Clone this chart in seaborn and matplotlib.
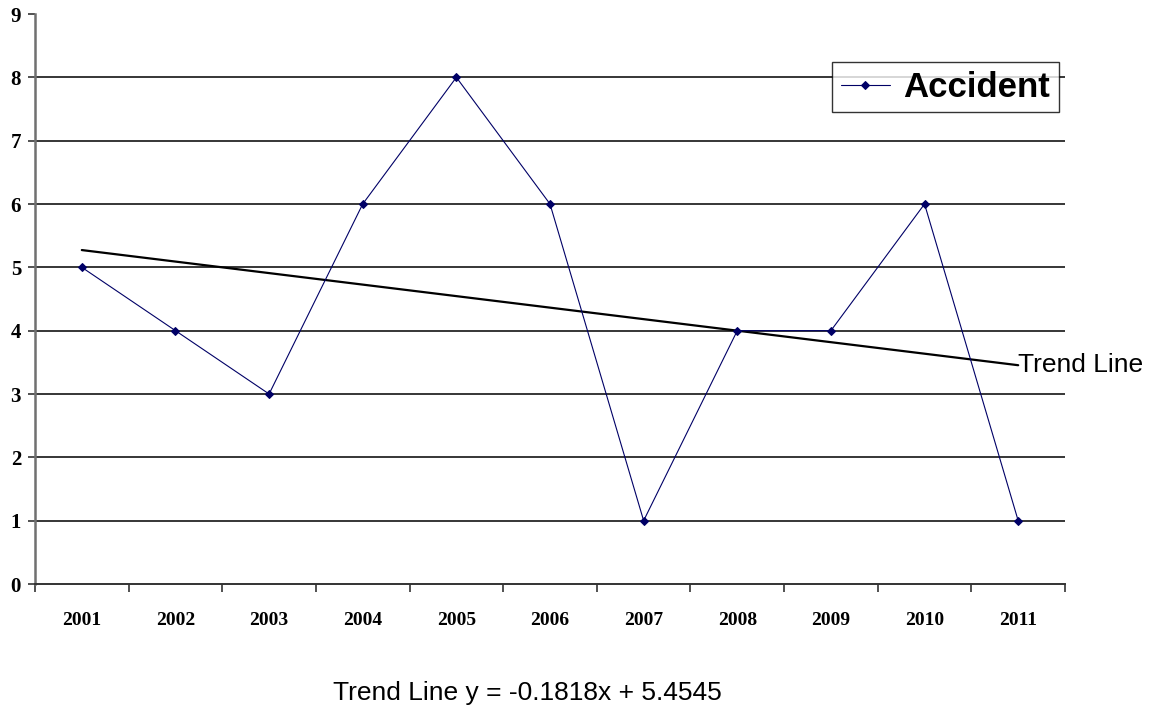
import numpy as np
import pandas as pd
import seaborn as sns
from matplotlib import pyplot as plt
from matplotlib.ticker import FixedLocator

years = ["2001", "2002", "2003", "2004", "2005", "2006",
         "2007", "2008", "2009", "2010", "2011"]
accidents = [5, 4, 3, 6, 8, 6, 1, 4, 4, 6, 1]
y_ticks = [0, 1, 2, 3, 4, 5, 6, 7, 8, 9]

sns.set_theme(style="white")
plt.rcParams["font.family"] = ["Liberation Sans", "DejaVu Sans"]
plt.rcParams["text.color"] = "black"
plt.rcParams["xtick.labelcolor"] = "black"
plt.rcParams["ytick.labelcolor"] = "black"

df = pd.DataFrame({"pos": np.arange(len(years)), "year": years, "accidents": accidents})

fig = plt.figure(figsize=(11.63, 7.09), dpi=100)
ax = fig.add_axes([35 / 1163, 125 / 709, 1030 / 1163, 570 / 709])

# horizontal gridlines like the Excel chart (none on the top value)
for v in y_ticks[1:-1]:
    ax.axhline(v, color="black", lw=1.1, zorder=0)

sns.lineplot(data=df, x="pos", y="accidents", ax=ax, color="#000066",
             lw=0.8, marker="D", markersize=4, markeredgecolor="#000066",
             label="Accident", zorder=3)

# least-squares trend over category index 1..11
slope, intercept = np.polyfit(df["pos"] + 1, df["accidents"], 1)
sns.regplot(data=df, x="pos", y="accidents", ax=ax, scatter=False, ci=None,
            color="black", line_kws={"lw": 1.6, "zorder": 2})

ax.set_xlim(-0.5, len(years) - 0.5)
ax.set_ylim(0, 9)
ax.set_xlabel("")
ax.set_ylabel("")

ax.xaxis.set_major_locator(FixedLocator(np.arange(len(years) + 1) - 0.5))
ax.xaxis.set_minor_locator(FixedLocator(df["pos"]))
ax.set_xticklabels([], minor=False)
ax.set_xticklabels(years, minor=True, family="Liberation Serif",
                   fontweight="bold", fontsize=14)
ax.tick_params(axis="x", which="major", length=6, width=1.2, color="#333333",
               direction="out", bottom=True)
ax.tick_params(axis="x", which="minor", length=0, pad=20)
ax.set_yticks(y_ticks)
ax.set_yticklabels([str(t) for t in y_ticks], family="Liberation Serif",
                   fontweight="bold", fontsize=15)
ax.tick_params(axis="y", length=5, width=1.2, color="#333333", direction="out",
               left=True, pad=5)

for side in ["top", "right"]:
    ax.spines[side].set_visible(False)
ax.spines["left"].set_color("#707070")
ax.spines["left"].set_linewidth(1.8)
ax.spines["bottom"].set_color("#333333")
ax.spines["bottom"].set_linewidth(1.4)

leg = ax.legend(loc="upper right", bbox_to_anchor=(1059 / 1163, 1 - 62 / 709),
                bbox_transform=fig.transFigure, frameon=True, fancybox=False,
                prop={"weight": "heavy", "size": 25}, handlelength=1.4,
                borderpad=0.25, handletextpad=0.4, borderaxespad=0)
leg.get_frame().set_edgecolor("black")
leg.get_frame().set_linewidth(1.0)
for t in leg.get_texts():
    t.set_color("black")

last = len(years) - 1
ax.annotate("Trend Line", xy=(last, slope * (last + 1) + intercept),
            xytext=(0, 0), textcoords="offset points", ha="left", va="center",
            fontsize=19, annotation_clip=False)

fig.text(527 / 1163, 1 - 693 / 709,
         f"Trend Line y = {slope:.4f}x + {intercept:.4f}",
         ha="center", va="center", fontsize=19)

fig.savefig("out.png", dpi=100)
